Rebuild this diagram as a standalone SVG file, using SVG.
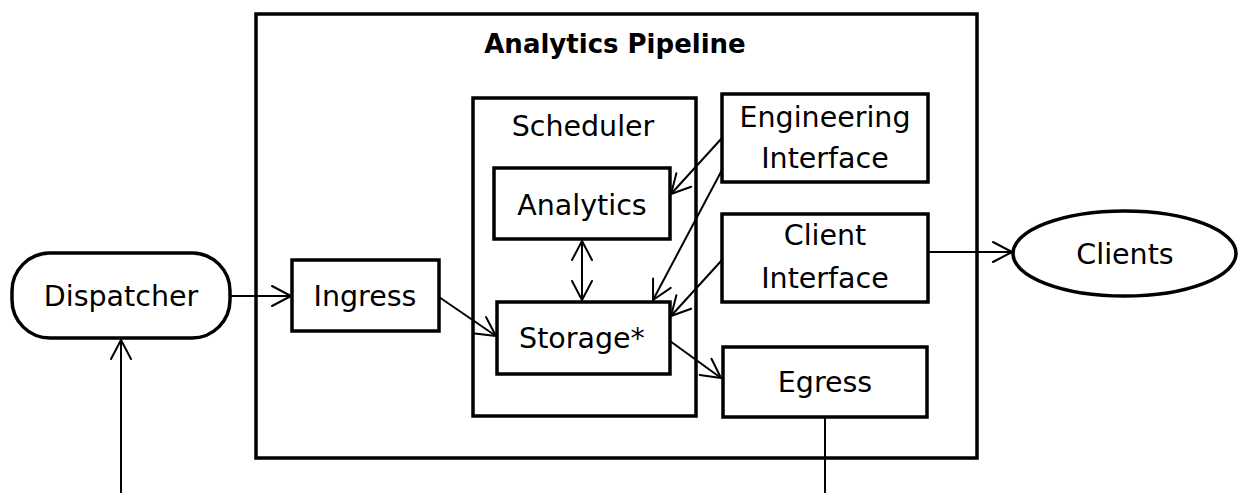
<svg xmlns="http://www.w3.org/2000/svg" width="1239" height="493" viewBox="0 0 1239 493">
<style>
.box{fill:none;stroke:#000;stroke-width:3.5}
.lbl{font-family:"DejaVu Sans",sans-serif;font-size:28.5px;fill:#000;text-anchor:middle}
.ttl{font-family:"DejaVu Sans",sans-serif;font-size:26px;font-weight:bold;fill:#000;text-anchor:middle}
.con{fill:none;stroke:#000;stroke-width:2}
</style>
<defs>
<marker id="arr" markerUnits="userSpaceOnUse" viewBox="-21 -12 23 24" refX="0" refY="0" markerWidth="23" markerHeight="24" orient="auto-start-reverse">
<path d="M-19,-10 L0,0 L-19,10" fill="none" stroke="#000" stroke-width="2" stroke-linejoin="round" stroke-linecap="round"/>
</marker>
</defs>
<rect width="1239" height="493" fill="#fff"/>
<g id="pipeline">
<rect class="box" x="256" y="14" width="721" height="444"/>
<text class="ttl" x="615" y="53">Analytics Pipeline</text>
</g>
<g id="scheduler">
<rect class="box" x="473" y="98" width="223" height="318"/>
<text class="lbl" x="583" y="136">Scheduler</text>
</g>
<g id="analytics">
<rect class="box" x="494" y="168" width="176" height="71"/>
<text class="lbl" x="582" y="215">Analytics</text>
</g>
<g id="storage">
<rect class="box" x="497" y="302" width="173" height="72"/>
<text class="lbl" x="582" y="348">Storage*</text>
</g>
<g id="ingress">
<rect class="box" x="292" y="260" width="147" height="71"/>
<text class="lbl" x="365" y="306">Ingress</text>
</g>
<g id="dispatcher">
<rect class="box" x="12" y="253" width="218" height="85" rx="38" ry="38"/>
<text class="lbl" x="121" y="306">Dispatcher</text>
</g>
<g id="engineering">
<rect class="box" x="722" y="94" width="206" height="88"/>
<text class="lbl" x="825" y="127">Engineering</text>
<text class="lbl" x="825" y="168">Interface</text>
</g>
<g id="client">
<rect class="box" x="722" y="214" width="206" height="88"/>
<text class="lbl" x="825" y="245">Client</text>
<text class="lbl" x="825" y="288">Interface</text>
</g>
<g id="egress">
<rect class="box" x="723" y="347" width="204" height="70"/>
<text class="lbl" x="825" y="392">Egress</text>
</g>
<g id="clients">
<ellipse class="box" cx="1124.5" cy="253.5" rx="111.5" ry="42.5"/>
<text class="lbl" x="1125" y="264">Clients</text>
</g>
<g id="connectors">
<line class="con" x1="121" y1="493" x2="121" y2="340" marker-end="url(#arr)"/>
<line class="con" x1="230" y1="296" x2="291" y2="296" marker-end="url(#arr)"/>
<line class="con" x1="439" y1="297" x2="496" y2="336" marker-end="url(#arr)"/>
<line class="con" x1="582" y1="241" x2="582" y2="300" marker-start="url(#arr)" marker-end="url(#arr)"/>
<line class="con" x1="722" y1="138" x2="671" y2="194" marker-end="url(#arr)"/>
<line class="con" x1="722" y1="170" x2="653" y2="300" marker-end="url(#arr)"/>
<line class="con" x1="722" y1="260" x2="671" y2="316" marker-end="url(#arr)"/>
<line class="con" x1="670" y1="341" x2="721" y2="378" marker-end="url(#arr)"/>
<line class="con" x1="928" y1="252" x2="1012" y2="252" marker-end="url(#arr)"/>
<line class="con" x1="825" y1="417" x2="825" y2="493"/>
</g>
</svg>
